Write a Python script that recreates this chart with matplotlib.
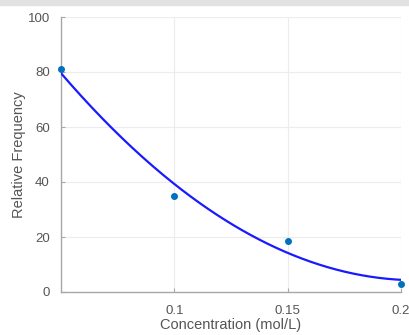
import numpy as np
import matplotlib.pyplot as plt

plt.rcParams['font.family'] = ['Liberation Sans', 'DejaVu Sans']

# measured points
conc = [0.05, 0.10, 0.15, 0.20]
freq = [81.0, 35.0, 18.5, 3.0]

xticks = [0.1, 0.15, 0.2]
xticklabels = ['0.1', '0.15', '0.2']
yticks = [0, 20, 40, 60, 80, 100]

# quadratic fit through the points
coef = np.polyfit(conc, freq, 2)
xf = np.linspace(0.05, 0.2, 200)
yf = np.polyval(coef, xf)

fig = plt.figure(figsize=(4.09, 3.35), dpi=100)
fig.patches.append(plt.Rectangle((0, 1 - 5 / 335), 1, 5 / 335, transform=fig.transFigure,
                                 color='#e2e2e2', zorder=0))
ax = fig.add_axes([61 / 409, 43 / 335, 340 / 409, 275 / 335])

ax.plot(xf, yf, color='#1a1aff', lw=1.6, zorder=3)
ax.plot(conc, freq, 'o', color='#0072BD', ms=4, zorder=4, clip_on=False)

ax.set_xlim(0.05, 0.2)
ax.set_ylim(0, 100)
ax.set_xticks(xticks)
ax.set_xticklabels(xticklabels)
ax.set_yticks(yticks)
ax.grid(True, color='#ececec', lw=0.8)
ax.set_axisbelow(True)

for s in ['top', 'right']:
    ax.spines[s].set_visible(False)
for s in ['left', 'bottom']:
    ax.spines[s].set_color('#a8a8a8')
    ax.spines[s].set_linewidth(1.0)
ax.tick_params(direction='in', length=3, colors='#a8a8a8', labelcolor='#555555', labelsize=9.5)
ax.tick_params(axis='x', pad=9)
ax.tick_params(axis='y', pad=8)

ax.set_xlabel('Concentration (mol/L)', color='#555555', fontsize=10.5, labelpad=1)
ax.set_ylabel('Relative Frequency', color='#555555', fontsize=10.5, labelpad=1)

plt.savefig('out.png', dpi=100)
